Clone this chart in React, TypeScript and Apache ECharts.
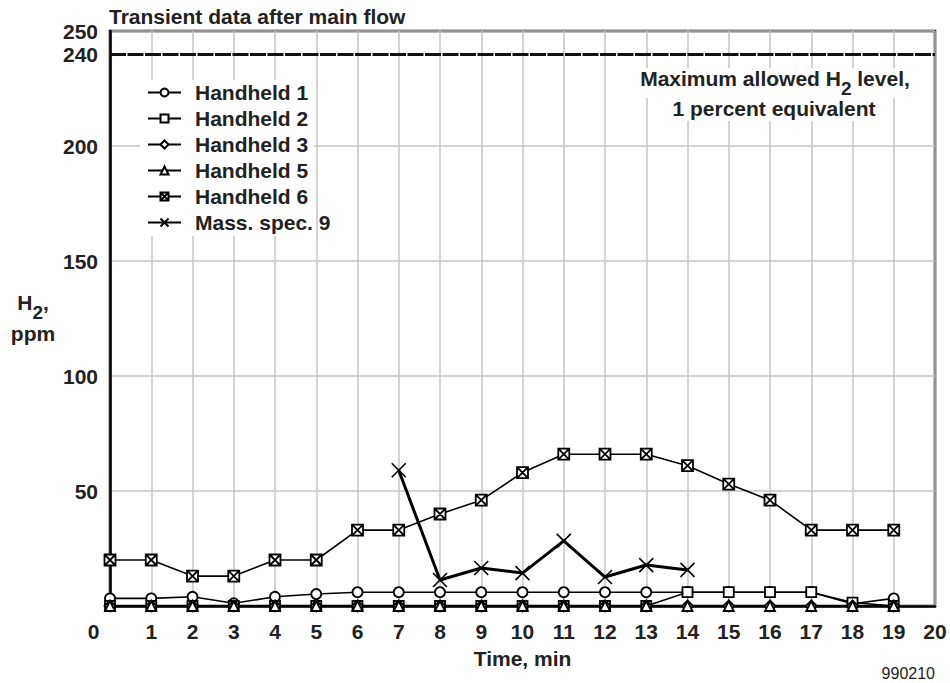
import React, { useEffect, useRef } from 'react';
import * as echarts from 'echarts';

const times = [0, 1, 2, 3, 4, 5, 6, 7, 8, 9, 10, 11, 12, 13, 14, 15, 16, 17, 18, 19];
const handheld1 = [3.3, 3.3, 4, 1.2, 4, 5.2, 6, 6, 6, 6, 6, 6, 6, 6, 6, 6, 6, 6, 1, 3.3];
const handheld2 = [0, 0, 0, 0, 0, 0, 0, 0, 0, 0, 0, 0, 0, 0, 6, 6, 6, 6, 1.5, 0];
const handheld3 = [0, 0, 0, 0, 0, 0, 0, 0, 0, 0, 0, 0, 0, 0, 0, 0, 0, 0, 0, 0];
const handheld5 = [0, 0, 0, 0, 0, 0, 0, 0, 0, 0, 0, 0, 0, 0, 0, 0, 0, 0, 0, 0];
const handheld6 = [20, 20, 13, 13, 20, 20, 33, 33, 40, 46, 58, 66, 66, 66, 61, 53, 46, 33, 33, 33];
const massTimes = [7, 8, 9, 10, 11, 12, 13, 14];
const massSpec9 = [59, 11.3, 16.5, 14.3, 28.3, 12.6, 17.8, 15.7];
const limitLevel = 240;
const yShownLabels = [50, 100, 150, 200, 250];
const legendNames = ['Handheld 1', 'Handheld 2', 'Handheld 3', 'Handheld 5', 'Handheld 6', 'Mass. spec. 9'];

const FONT = '"Liberation Sans", Arial, Helvetica, sans-serif';
const TXT = '#222';
const FS = 21;

const pairs = (xs: number[], ys: number[]) => xs.map((x, i) => [x, ys[i]]);

const SQUARE_X = 'path://M0,0 L10,0 L10,10 L0,10 Z M0,0 L10,10 M10,0 L0,10';
const CROSS = 'path://M0,0 L10,10 M10,0 L0,10';

const subRich = {
  a: { fontFamily: FONT, fontSize: FS, fontWeight: 'bold', fill: TXT, lineHeight: 30, verticalAlign: 'top' },
  s: { fontFamily: FONT, fontSize: 19, fontWeight: 'bold', fill: TXT, lineHeight: 30, verticalAlign: 'bottom' },
  b: { fontFamily: FONT, fontSize: FS, fontWeight: 'bold', fill: TXT, lineHeight: 22 },
};

export default function App() {
  const ref = useRef<HTMLDivElement>(null);
  useEffect(() => {
    if (!ref.current) return;
    const chart = echarts.init(ref.current, undefined, { renderer: 'svg' });
    const handheldSeries = (name: string, data: number[], symbol: string, size: number) => ({
      name,
      type: 'line',
      data: pairs(times, data),
      symbol,
      symbolSize: size,
      showAllSymbol: true,
      lineStyle: { color: '#000', width: 1.6 },
      itemStyle: { color: '#fff', borderColor: '#000', borderWidth: 1.8 },
      z: 3,
    });
    const option: any = {
      animation: false,
      textStyle: { fontFamily: FONT },
      title: {
        text: 'Transient data after main flow',
        left: 109,
        top: 6,
        padding: 0,
        textStyle: { fontFamily: FONT, fontSize: FS, fontWeight: 'bold', color: TXT },
      },
      grid: {
        left: 110,
        right: 15,
        top: 31,
        bottom: 77,
        show: true,
        borderColor: '#000',
        borderWidth: 2.5,
        backgroundColor: 'transparent',
      },
      legend: {
        left: 147,
        top: 82,
        orient: 'vertical',
        padding: 0,
        itemWidth: 33,
        itemHeight: 10,
        itemGap: 5,
        textStyle: { fontFamily: FONT, fontSize: FS, fontWeight: 'bold', color: TXT, padding: [0, 0, 0, 9] },
        data: legendNames,
      },
      xAxis: {
        type: 'value',
        min: 0,
        max: 20,
        interval: 1,
        name: 'Time, min',
        nameLocation: 'middle',
        nameGap: 42,
        nameTextStyle: { fontFamily: FONT, fontSize: 21, fontWeight: 'bold', color: TXT },
        axisLine: { show: true, lineStyle: { color: '#000', width: 2.5 } },
        axisTick: { show: false },
        axisLabel: {
          margin: 15,
          fontFamily: FONT,
          fontSize: FS,
          fontWeight: 'bold',
          color: TXT,
          formatter: (v: number) => (v === 0 ? '{z|0}' : String(v)),
          rich: { z: { fontFamily: FONT, fontSize: FS, fontWeight: 'bold', color: TXT, padding: [0, 33, 0, 0] } },
        },
        splitLine: { show: true, lineStyle: { color: '#c4c4c4', width: 1.5 } },
      },
      yAxis: {
        type: 'value',
        min: 0,
        max: 250,
        interval: 50,
        axisLine: { show: true, lineStyle: { color: '#000', width: 2.5 } },
        axisTick: { show: false },
        axisLabel: {
          margin: 12,
          fontFamily: FONT,
          fontSize: FS,
          fontWeight: 'bold',
          color: TXT,
          formatter: (v: number) => (yShownLabels.includes(v) ? String(v) : ''),
        },
        splitLine: { show: true, lineStyle: { color: '#c4c4c4', width: 1.5 } },
      },
      graphic: [
        {
          type: 'rect',
          z: 1,
          silent: true,
          shape: { x: 140, y: 80, width: 174, height: 156 },
          style: { fill: '#fff' },
        },
        {
          type: 'text',
          x: 33,
          y: 292,
          z: 100,
          style: {
            text: '{a|H}{s|2}{a|,}\n{b|ppm}',
            textAlign: 'center',
            textVerticalAlign: 'top',
            rich: subRich,
          },
        },
        {
          type: 'text',
          x: 775,
          y: 68,
          z: 100,
          style: {
            text: '{a|Maximum allowed H}{s|2}{a| level,}',
            textAlign: 'center',
            textVerticalAlign: 'top',
            backgroundColor: '#fff',
            padding: [0, 3, 0, 3],
            rich: subRich,
          },
        },
        {
          type: 'text',
          x: 774,
          y: 97,
          z: 100,
          style: {
            text: '1 percent equivalent',
            textAlign: 'center',
            textVerticalAlign: 'top',
            fontFamily: FONT,
            fontSize: FS,
            fontWeight: 'bold',
            fill: TXT,
            backgroundColor: '#fff',
            padding: [1, 3, 2, 3],
          },
        },
        {
          type: 'text',
          x: 935,
          y: 673,
          z: 100,
          style: {
            text: '990210',
            textAlign: 'right',
            textVerticalAlign: 'middle',
            fontFamily: FONT,
            fontSize: 16,
            fill: TXT,
          },
        },
      ],
      series: [
        {
          ...handheldSeries('Handheld 1', handheld1, 'circle', 10),
          markLine: {
            silent: true,
            symbol: 'none',
            data: [{ yAxis: limitLevel }],
            lineStyle: { color: '#111', width: 3.2, type: [16, 1.5] },
            label: {
              show: true,
              position: 'start',
              distance: 12,
              formatter: String(limitLevel),
              fontFamily: FONT,
              fontSize: FS,
              fontWeight: 'bold',
              color: TXT,
            },
          },
        },
        handheldSeries('Handheld 2', handheld2, 'rect', 10),
        handheldSeries('Handheld 3', handheld3, 'diamond', 11),
        handheldSeries('Handheld 5', handheld5, 'triangle', 10),
        handheldSeries('Handheld 6', handheld6, SQUARE_X, 11),
        {
          name: 'Mass. spec. 9',
          type: 'line',
          data: pairs(massTimes, massSpec9),
          symbol: CROSS,
          symbolSize: 14,
          lineStyle: { color: '#000', width: 3 },
          itemStyle: { color: 'none', borderColor: '#000', borderWidth: 1.6 },
          z: 4,
        },
      ],
    };
    chart.setOption(option);
    return () => chart.dispose();
  }, []);
  return <div ref={ref} style={{ width: 950, height: 683, position: 'absolute', left: 0, top: 0, background: '#fff' }} />;
}
